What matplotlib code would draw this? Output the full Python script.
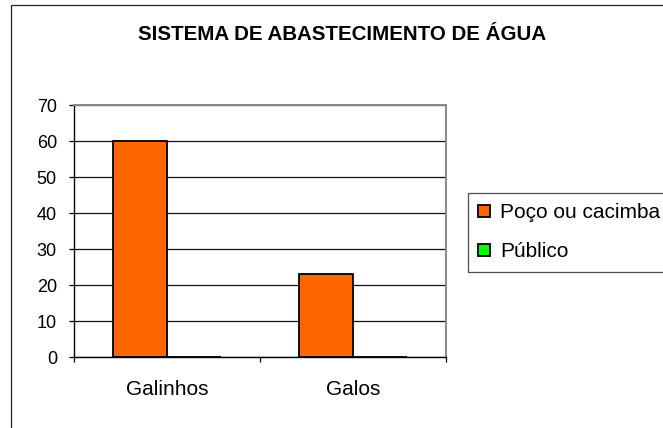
import matplotlib
matplotlib.use("Agg")
import matplotlib.pyplot as plt
from matplotlib.patches import Rectangle
import numpy as np

plt.rcParams['font.family'] = ['Liberation Sans', 'DejaVu Sans']

title = "SISTEMA DE ABASTECIMENTO DE ÁGUA"
categories = ["Galinhos", "Galos"]
series_names = ["Poço ou cacimba", "Público"]
poco_values = [60, 23]
publico_values = [0, 0]
y_ticks = [0, 10, 20, 30, 40, 50, 60, 70]

W, H = 663, 428
fig = plt.figure(figsize=(W / 100, H / 100), dpi=100)
fig.patch.set_facecolor('white')

# outer chart border
fig.patches.append(Rectangle((11 / W, -0.2), 2.0, 1 - 5 / H + 0.2, transform=fig.transFigure,
                             fill=False, edgecolor='#222222', linewidth=0.9, zorder=0))

ax = fig.add_axes([74 / W, 1 - 357 / H, (446 - 74) / W, (357 - 105) / H])
x = np.arange(len(categories))
bw = 0.29
b1 = ax.bar(x - bw / 2, poco_values, bw, color='#FF6600', edgecolor='black', linewidth=1.3,
            label=series_names[0], zorder=3)
b2 = ax.bar(x + bw / 2, publico_values, bw, color='#00FF00', edgecolor='black', linewidth=1.3,
            label=series_names[1], zorder=3)

ax.set_xlim(-0.5, len(categories) - 0.5)
ax.set_ylim(0, 70)
ax.set_yticks(y_ticks)
ax.set_yticklabels([str(v) for v in y_ticks], fontsize=13)
ax.yaxis.grid(True, color='#111111', linewidth=0.9, zorder=1)
ax.set_axisbelow(True)

ax.set_xticks(x)
ax.set_xticklabels(categories, fontsize=15)
ax.set_xticks(np.arange(-0.5, len(categories), 1.0), minor=True)
ax.tick_params(axis='x', which='major', length=0, pad=16.5)
ax.tick_params(axis='x', which='minor', length=3.8, width=0.9, color='black', direction='out')
ax.tick_params(axis='y', length=3.8, width=0.9, color='black', direction='out', pad=8.5)

for s in ['top', 'right']:
    ax.spines[s].set_color('#888888')
    ax.spines[s].set_linewidth(1.4)
for s in ['left', 'bottom']:
    ax.spines[s].set_color('black')
    ax.spines[s].set_linewidth(1.0)
ax.spines['bottom'].set_zorder(4)

fig.text(342.5 / W, 1 - 40 / H, title, ha='center', va='baseline', fontsize=14.8,
         fontweight='bold')

leg = fig.legend(handles=[b1, b2], labels=series_names, loc='upper left',
                 bbox_to_anchor=(468 / W, 1 - 193 / H), bbox_transform=fig.transFigure,
                 fontsize=15, frameon=True, fancybox=False, edgecolor='#222222',
                 borderpad=0.5, labelspacing=0.95, handlelength=0.55, handleheight=0.55,
                 handletextpad=0.48, borderaxespad=0)
leg.get_frame().set_linewidth(0.9)

fig.savefig("out.png", dpi=100, facecolor='white')
